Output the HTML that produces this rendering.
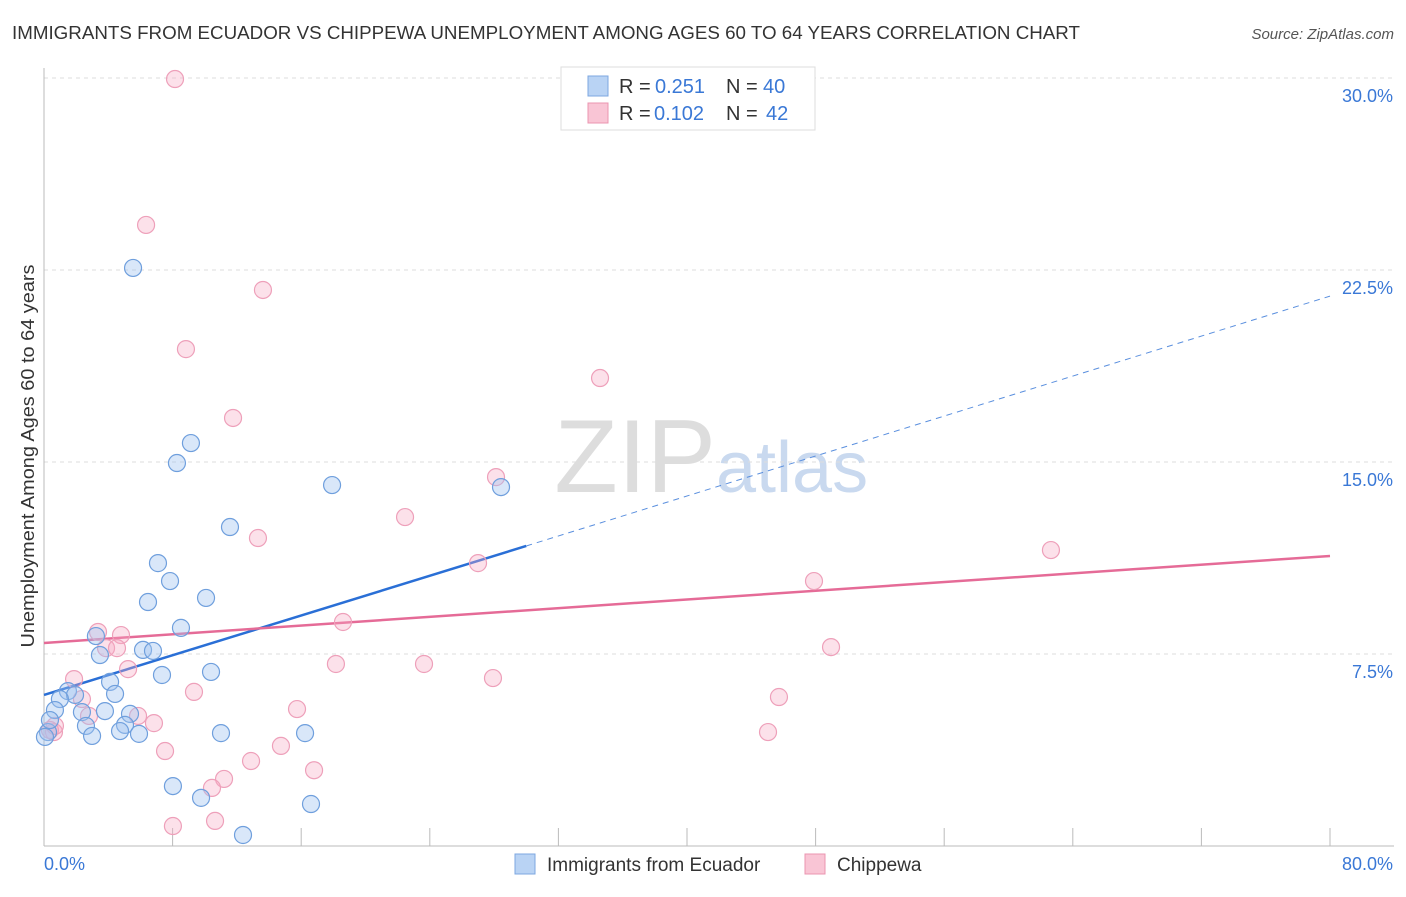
<!DOCTYPE html>
<html><head><meta charset="utf-8"><style>
body{margin:0;background:#fff;font-family:"Liberation Sans",sans-serif;}
svg text{font-family:"Liberation Sans",sans-serif;}
</style></head><body>
<svg id="chart" width="1406" height="892" viewBox="0 0 1406 892">
<text x="12" y="39" font-size="18" fill="#333" textLength="1068" lengthAdjust="spacingAndGlyphs">IMMIGRANTS FROM ECUADOR VS CHIPPEWA UNEMPLOYMENT AMONG AGES 60 TO 64 YEARS CORRELATION CHART</text>
<text x="1394" y="39" font-size="15" fill="#555" font-style="italic" text-anchor="end">Source: ZipAtlas.com</text>
<text x="716" y="492" font-size="104" fill="#ddd" font-family="Liberation Serif" text-anchor="end">ZIP</text>
<text x="716" y="492" font-size="72" fill="#c9d9ef">atlas</text>
<g id="grid"></g><g id="axes"></g><g id="trends"></g><g id="points"></g>
<text transform="translate(34,456) rotate(-90)" font-size="18" fill="#333" text-anchor="middle" textLength="383" lengthAdjust="spacingAndGlyphs">Unemployment Among Ages 60 to 64 years</text>
<text x="44" y="870" font-size="18" fill="#3a78d6">0.0%</text>
<text x="1393" y="870" font-size="18" fill="#3a78d6" text-anchor="end">80.0%</text>
<g>
<rect x="561" y="67" width="254" height="63" fill="#fff" stroke="#ddd"/>
<rect x="588" y="76" width="20" height="20" fill="#b9d3f4" stroke="#7da7e0"/>
<rect x="588" y="103" width="20" height="20" fill="#f9c5d5" stroke="#eb95b0"/>
<text x="619" y="93" font-size="20" fill="#333">R =</text><text x="655" y="93" font-size="20" fill="#3a78d6">0.251</text>
<text x="726" y="93" font-size="20" fill="#333">N =</text><text x="763" y="93" font-size="20" fill="#3a78d6">40</text>
<text x="619" y="120" font-size="20" fill="#333">R =</text><text x="654" y="120" font-size="20" fill="#3a78d6">0.102</text>
<text x="726" y="120" font-size="20" fill="#333">N =</text><text x="766" y="120" font-size="20" fill="#3a78d6">42</text>
</g>
<g>
<rect x="515" y="854" width="20" height="20" fill="#b9d3f4" stroke="#7da7e0"/>
<text x="547" y="871" font-size="19" fill="#333">Immigrants from Ecuador</text>
<rect x="805" y="854" width="20" height="20" fill="#f9c5d5" stroke="#eb95b0"/>
<text x="837" y="871" font-size="19" fill="#333">Chippewa</text>
</g>
</svg>
<script>
const yTicks=[7.5,15,22.5,30];
const xTicks=[0,8,16,24,32,40,48,56,64,72,80];
const blueX=[5.54,9.14,8.27,17.92,28.43,11.57,7.09,7.84,6.47,10.08,8.52,3.23,3.48,6.16,6.78,7.34,10.39,4.11,4.42,1.49,1.93,0.99,0.68,2.36,3.79,5.35,5.04,2.61,4.73,5.91,11.01,16.24,2.99,8.02,9.77,16.61,12.38,0.25,0.06,0.37];
const blueY=[22.58,15.74,14.96,14.10,14.02,12.46,11.05,10.35,9.53,9.69,8.52,8.20,7.46,7.66,7.62,6.68,6.80,6.41,5.94,6.05,5.90,5.74,5.31,5.23,5.27,5.16,4.73,4.69,4.49,4.38,4.41,4.41,4.30,2.34,1.88,1.64,0.43,4.45,4.26,4.92];
const pinkX=[8.15,6.35,13.62,8.83,34.59,11.76,28.12,22.46,13.31,62.64,27.00,47.90,18.60,3.36,4.79,3.86,4.54,48.96,5.23,18.16,23.64,27.93,1.87,9.33,45.72,2.36,15.74,5.85,6.84,2.80,45.04,0.62,0.37,7.53,14.74,12.88,11.20,10.45,16.80,10.64,8.02,0.68];
const pinkY=[29.96,24.26,21.72,19.41,18.28,16.72,14.41,12.85,12.03,11.56,11.05,10.35,8.75,8.36,8.24,7.73,7.73,7.77,6.91,7.11,7.11,6.56,6.52,6.02,5.82,5.74,5.35,5.08,4.80,5.08,4.45,4.45,4.53,3.71,3.91,3.32,2.62,2.27,2.96,0.98,0.78,4.69];
const blueTrend=[0,5.90,30,11.72,80,21.48];
const pinkTrend=[0,7.93,80,11.33];
const NS='http://www.w3.org/2000/svg';
const X=v=>44+v/80*1286, Y=v=>846-v*25.6;
function mk(tag,attrs,parent){const e=document.createElementNS(NS,tag);for(const k in attrs)e.setAttribute(k,attrs[k]);document.getElementById(parent).appendChild(e);return e;}
yTicks.forEach(t=>{
 const l=mk('line',{x1:44,x2:1394,y1:Y(t),y2:Y(t),stroke:'#ddd','stroke-dasharray':'4,4'},'grid');
 
 
 const tx=mk('text',{x:1393,y:Y(t)+24,'font-size':18,fill:'#3a78d6','text-anchor':'end'},'grid');
 tx.textContent=t.toFixed(1)+'%';
 
 
});
const ax=mk('line',{x1:44,x2:1394,y1:846,y2:846,stroke:'#bbb'},'axes');


const ay=mk('line',{x1:44,x2:44,y1:68,y2:846,stroke:'#bbb'},'axes');


xTicks.forEach(t=>{
 const l=mk('line',{x1:X(t),x2:X(t),y1:828,y2:846,stroke:'#bbb'},'axes');
 
 
});
let l=mk('line',{x1:X(blueTrend[0]),y1:Y(blueTrend[1]),x2:X(blueTrend[2]),y2:Y(blueTrend[3]),stroke:'#2a6fd6','stroke-width':2.5},'trends');


l=mk('line',{x1:X(blueTrend[2]),y1:Y(blueTrend[3]),x2:X(blueTrend[4]),y2:Y(blueTrend[5]),stroke:'#5a8fde','stroke-width':1,'stroke-dasharray':'6,5'},'trends');


l=mk('line',{x1:X(pinkTrend[0]),y1:Y(pinkTrend[1]),x2:X(pinkTrend[2]),y2:Y(pinkTrend[3]),stroke:'#e56b97','stroke-width':2.5},'trends');


pinkX.forEach((x,i)=>{
 const c=mk('circle',{cx:X(x),cy:Y(pinkY[i]),r:8.5,fill:'rgba(246,170,195,0.35)',stroke:'#eea0ba','stroke-width':1.2},'points');
 
 
});
blueX.forEach((x,i)=>{
 const c=mk('circle',{cx:X(x),cy:Y(blueY[i]),r:8.5,fill:'rgba(160,196,240,0.4)',stroke:'#6f9fdd','stroke-width':1.2},'points');
 
 
});
</script>
</body></html>
